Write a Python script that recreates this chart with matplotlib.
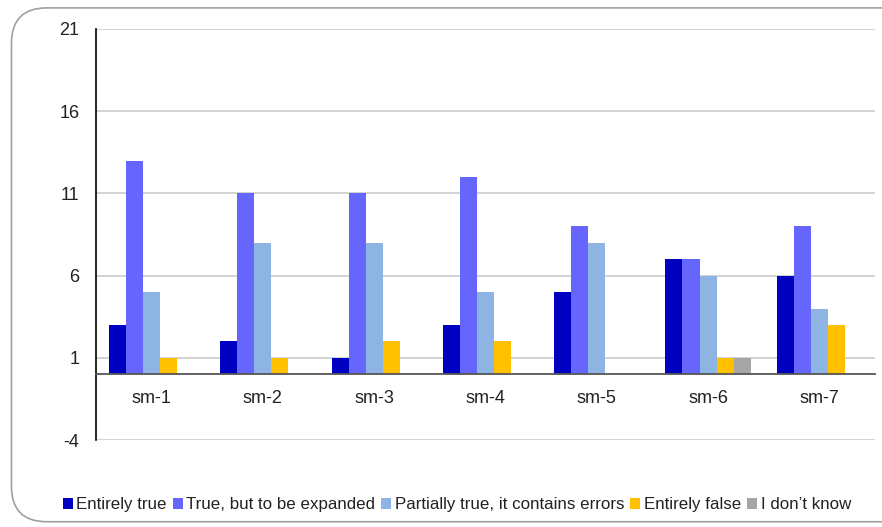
import matplotlib
matplotlib.use("Agg")
import matplotlib.pyplot as plt
from matplotlib.patches import FancyBboxPatch
import numpy as np

plt.rcParams['font.family'] = ['Liberation Sans', 'DejaVu Sans']
plt.rcParams['axes.unicode_minus'] = False

categories = ["sm-1", "sm-2", "sm-3", "sm-4", "sm-5", "sm-6", "sm-7"]
series_names = ["Entirely true", "True, but to be expanded",
                "Partially true, it contains errors", "Entirely false", "I don\u2019t know"]
entirely_true = [3, 2, 1, 3, 5, 7, 6]
true_expand = [13, 11, 11, 12, 9, 7, 9]
partially_true = [5, 8, 8, 5, 8, 6, 4]
entirely_false = [1, 1, 2, 2, 0, 1, 3]
dont_know = [0, 0, 0, 0, 0, 1, 0]
y_ticks = [-4, 1, 6, 11, 16, 21]

series = [entirely_true, true_expand, partially_true, entirely_false, dont_know]
colors = ["#0000C0", "#6666FF", "#8DB4E2", "#FFC000", "#A6A6A6"]

fig = plt.figure(figsize=(8.82, 5.27), dpi=100)
border = FancyBboxPatch((0.013, 0.01), 1.05, 0.975, transform=fig.transFigure,
                        boxstyle="round,pad=0,rounding_size=0.04",
                        facecolor="none", edgecolor="#A0A0A0", linewidth=1.2,
                        mutation_aspect=882/527, zorder=0)
fig.patches.append(border)

ax = fig.add_axes([0.1088, 0.165, 0.8832, 0.780])
ax.set_facecolor("none")
ax.set_zorder(2)

x = np.arange(len(categories))
w = 0.153
for k, (vals, c, name) in enumerate(zip(series, colors, series_names)):
    ax.bar(x + (k - 2) * w, vals, width=w, color=c, label=name, zorder=3,
           edgecolor="none")

ax.set_xlim(-0.5, len(categories) - 0.5)
ax.set_ylim(-4, 21)
ax.set_yticks(y_ticks)
ax.yaxis.grid(True, color="#C8C8C8", linewidth=1.1, zorder=0)
ax.set_axisbelow(True)

for s in ["top", "right"]:
    ax.spines[s].set_visible(False)
ax.spines["left"].set_color("black")
ax.spines["left"].set_linewidth(1.2)
ax.spines["bottom"].set_position(("data", 0))
ax.spines["bottom"].set_color("#555555")
ax.spines["bottom"].set_linewidth(1.3)
ax.spines["bottom"].set_zorder(4)

ax.set_xticks(x)
ax.set_xticklabels(categories)
ax.tick_params(axis="x", length=0, pad=11, labelsize=13, colors="#222222")
ax.tick_params(axis="y", length=0, pad=12, labelsize=13, colors="#222222")

leg = fig.legend(loc="center", bbox_to_anchor=(0.518, 0.042), ncol=5, frameon=False,
                 fontsize=12.2, handlelength=0.6, handleheight=0.6,
                 handletextpad=0.2, columnspacing=0.35, borderaxespad=0)
for t in leg.get_texts():
    t.set_color("#222222")

fig.savefig("out.png", dpi=100)
